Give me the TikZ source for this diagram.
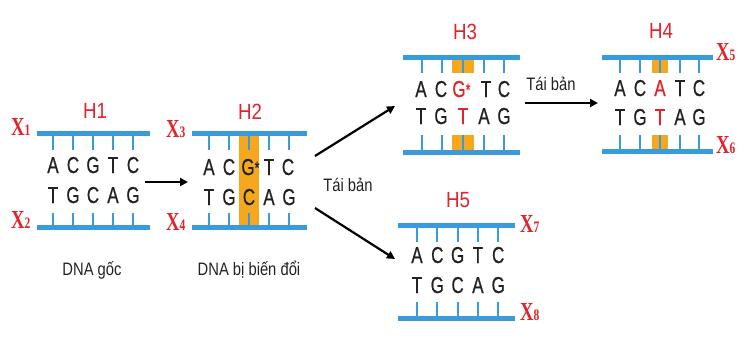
\documentclass[tikz,border=0pt]{standalone}
\usepackage{fontspec}
\usetikzlibrary{arrows.meta}
\newfontfamily\dnafont[FakeStretch=0.74,FakeBold=0.6]{Liberation Sans}
\newfontfamily\hlabfont[FakeStretch=0.85]{Liberation Sans}
\newfontfamily\capfont[FakeStretch=0.82]{Liberation Sans}
\newfontfamily\xlabfont[FakeStretch=0.72]{Liberation Serif}
\definecolor{dnablue}{HTML}{3A9BDC}
\definecolor{mutorange}{HTML}{F5A81E}
\definecolor{hred}{HTML}{E2232A}
\definecolor{ink}{HTML}{222222}
\newcommand{\xlab}[1]{{\fontsize{26}{26}\selectfont X}{\fontsize{16}{16}\selectfont #1}}
\newcommand{\gstar}{G\rlap{\raisebox{1.5pt}{\fontsize{17}{17}\selectfont *}}}
\tikzset{
  bar/.style={draw=dnablue, line width=5pt},
  rung/.style={draw=dnablue, line width=1.8pt},
  base/.style={font=\dnafont\fontsize{23}{23}\selectfont, text=ink, inner sep=0pt, anchor=base},
  hlab/.style={font=\hlabfont\fontsize{22}{22}\selectfont, text=hred, inner sep=0pt},
  xlab/.style={font=\xlabfont\bfseries, text=hred, inner sep=0pt, anchor=base west},
  caption/.style={font=\capfont\fontsize{18}{18}\selectfont, text=ink, inner sep=0pt, anchor=base},
  flow/.style={draw=black, line width=2.2pt, -{Triangle[length=8pt,width=8pt]}},
  mut/.style={fill=mutorange, draw=none}
}
\begin{document}
\begin{tikzpicture}[x=1pt,y=-1pt]
\useasboundingbox[fill=white] (0,0) rectangle (756,338);

% ---------- H1 ----------
\draw[bar] (37,133) -- (150,133);
\draw[bar] (37,227) -- (150,227);
\foreach \x in {53,73,93,113,133} {
  \draw[rung] (\x,133) -- (\x,150);
  \draw[rung] (\x,213) -- (\x,227);
}
\foreach \l [count=\i from 0] in {A,C,G,T,C}
  \node[base] (h1t\i) at (53+20*\i,173) {\l};
\foreach \l [count=\i from 0] in {T,G,C,A,G}
  \node[base] (h1b\i) at (53+20*\i,203) {\l};
\node[hlab] (H1) at (95,111) {H1};
\node[xlab] (X1) at (11,135) {\xlab{1}};
\node[xlab] (X2) at (11,228) {\xlab{2}};
\node[caption] (cap1) at (92,275) {DNA gốc};

% ---------- H2 ----------
\fill[mut] (239,133) rectangle (259,227);
\draw[bar] (192,133) -- (307,133);
\draw[bar] (192,227) -- (307,227);
\foreach \x in {209,229,249,269,289} {
  \draw[rung] (\x,133) -- (\x,150);
  \draw[rung] (\x,213) -- (\x,227);
}
\node[base] (h2t0) at (209,175) {A};
\node[base] (h2t1) at (229,175) {C};
\node[base] (h2t2) at (248,175) {\gstar};
\node[base] (h2t3) at (269,175) {T};
\node[base] (h2t4) at (288,175) {C};
\foreach \l [count=\i from 0] in {T,G,C,A,G}
  \node[base] (h2b\i) at (209+20*\i,205) {\l};
\node[hlab] (H2) at (250,112) {H2};
\node[xlab] (X3) at (166,137) {\xlab{3}};
\node[xlab] (X4) at (166,230) {\xlab{4}};
\node[caption] (cap2) at (249,275) {DNA bị biến đổi};

% ---------- H3 ----------
\fill[mut] (452,59) rectangle (474,73);
\fill[mut] (452,135) rectangle (474,150);
\draw[bar] (403,57) -- (520,57);
\draw[bar] (403,152) -- (520,152);
\foreach \x in {422,442,463,484,504} {
  \draw[rung] (\x,57) -- (\x,73);
  \draw[rung] (\x,135) -- (\x,152);
}
\node[base] (h3t0) at (421,97) {A};
\node[base] (h3t1) at (441,97) {C};
\node[base, text=hred] (h3t2) at (459,97) {\gstar};
\node[base] (h3t3) at (486,97) {T};
\node[base] (h3t4) at (504,97) {C};
\node[base] (h3b0) at (421,124) {T};
\node[base] (h3b1) at (441,124) {G};
\node[base, text=hred] (h3b2) at (463,124) {T};
\node[base] (h3b3) at (484,124) {A};
\node[base] (h3b4) at (504,124) {G};
\node[hlab] (H3) at (465,32) {H3};

% ---------- H4 ----------
\fill[mut] (652,59) rectangle (668,73);
\fill[mut] (652,135) rectangle (668,149);
\draw[bar] (602,57) -- (713,57);
\draw[bar] (602,151) -- (713,151);
\foreach \x in {620,640,660,680,699} {
  \draw[rung] (\x,57) -- (\x,73);
  \draw[rung] (\x,135) -- (\x,151);
}
\node[base] (h4t0) at (620,96) {A};
\node[base] (h4t1) at (640,96) {C};
\node[base, text=hred] (h4t2) at (660,96) {A};
\node[base] (h4t3) at (680,96) {T};
\node[base] (h4t4) at (699,96) {C};
\node[base] (h4b0) at (620,125) {T};
\node[base] (h4b1) at (640,125) {G};
\node[base, text=hred] (h4b2) at (660,125) {T};
\node[base] (h4b3) at (680,125) {A};
\node[base] (h4b4) at (699,125) {G};
\node[hlab] (H4) at (661,31) {H4};
\node[xlab] (X5) at (716,60) {\xlab{5}};
\node[xlab] (X6) at (716,153) {\xlab{6}};

% ---------- H5 ----------
\draw[bar] (398,225) -- (515,225);
\draw[bar] (398,318) -- (515,318);
\foreach \x in {417,437,458,478,498} {
  \draw[rung] (\x,225) -- (\x,242);
  \draw[rung] (\x,302) -- (\x,318);
}
\foreach \l [count=\i from 0] in {A,C,G,T,C}
  \node[base] (h5t\i) at (417+20.3*\i,263) {\l};
\foreach \l [count=\i from 0] in {T,G,C,A,G}
  \node[base] (h5b\i) at (417+20.3*\i,293) {\l};
\node[hlab] (H5) at (458,200) {H5};
\node[xlab] (X7) at (520,232) {\xlab{7}};
\node[xlab] (X8) at (520,320) {\xlab{8}};

% ---------- arrows ----------
\coordinate (a1s) at (145,182);
\coordinate (a1e) at (188,182);
\coordinate (a2s) at (315,156);
\coordinate (a2e) at (395,106);
\coordinate (a3s) at (315,208);
\coordinate (a3e) at (395,259);
\coordinate (a4s) at (525,103);
\coordinate (a4e) at (598,103);
\draw[flow] (a1s) -- (a1e);
\draw[flow] (a2s) -- (a2e);
\draw[flow] (a3s) -- (a3e);
\draw[flow] (a4s) -- (a4e);
\node[caption] (tb1) at (348,191) {Tái bản};
\node[caption] (tb2) at (551,90) {Tái bản};
\end{tikzpicture}
\end{document}
